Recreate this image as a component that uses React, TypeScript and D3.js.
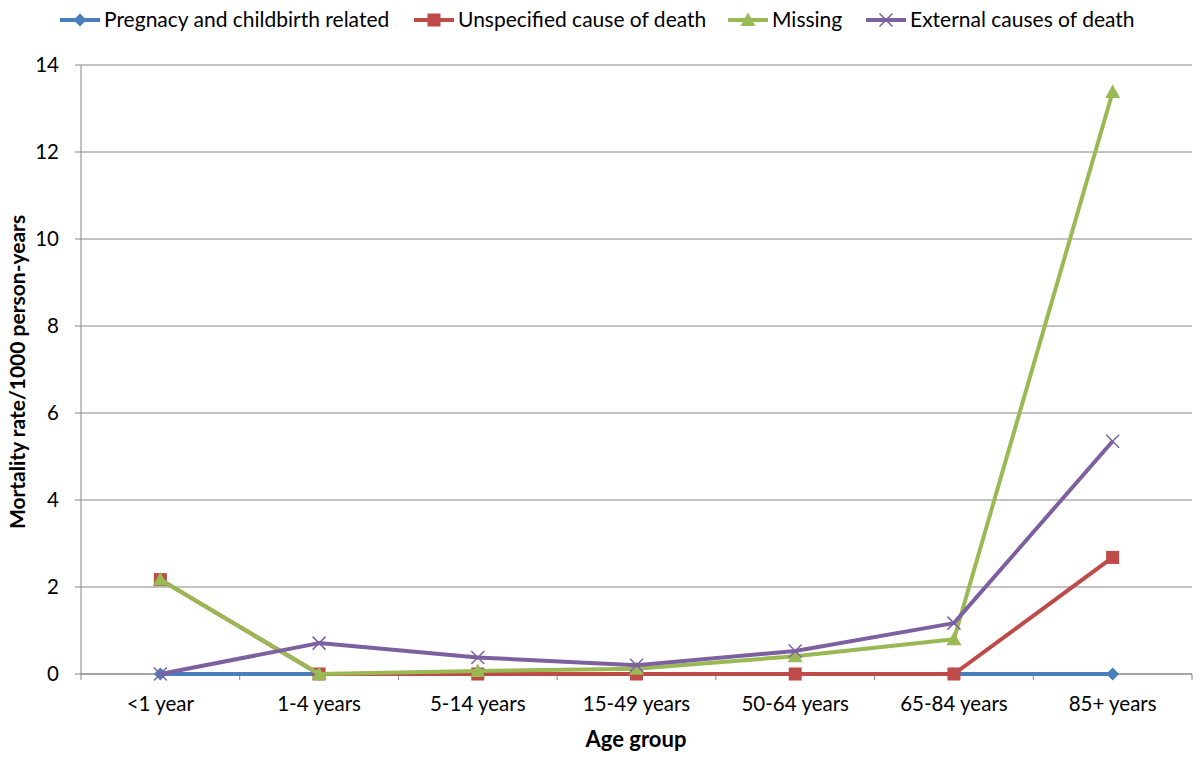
import React from "react";
import * as d3 from "d3";

const categories = ["<1 year", "1-4 years", "5-14 years", "15-49 years", "50-64 years", "65-84 years", "85+ years"];
const pregnancy = [0, 0, 0, 0, 0, 0, 0];
const unspecified = [2.17, 0, 0, 0, 0, 0, 2.68];
const missing = [2.17, 0, 0.07, 0.12, 0.41, 0.8, 13.38];
const external = [0, 0.71, 0.38, 0.2, 0.53, 1.17, 5.35];
const yTicks = [0, 2, 4, 6, 8, 10, 12, 14];

const seriesNames = ["Pregnacy and childbirth related", "Unspecified cause of death", "Missing", "External causes of death"];
const seriesColors = ["#4A7EBB", "#BE4B48", "#98B954", "#7D60A0"];
const seriesMarkers = ["diamond", "square", "triangle", "x"];
const seriesValues = [pregnancy, unspecified, missing, external];

const W = 1200, H = 758;
const M = { left: 81, right: 1192, top: 65, bottom: 674 };
const FONT = "Lato, 'Open Sans', sans-serif";

function Marker({ type, x, y, color }: { type: string; x: number; y: number; color: string }) {
  if (type === "diamond") {
    const s = 6.5;
    return <path d={`M${x},${y - s}L${x + s},${y}L${x},${y + s}L${x - s},${y}Z`} fill={color} />;
  }
  if (type === "square") {
    const s = 6.5;
    return <rect x={x - s} y={y - s} width={2 * s} height={2 * s} fill={color} />;
  }
  if (type === "triangle") {
    const s = 7.5;
    return <path d={`M${x},${y - s}L${x + s},${y + s * 0.8}L${x - s},${y + s * 0.8}Z`} fill={color} />;
  }
  const s = 6.5;
  return (
    <path d={`M${x - s},${y - s}L${x + s},${y + s}M${x - s},${y + s}L${x + s},${y - s}`} stroke={color} strokeWidth={1.5} fill="none" />
  );
}

export default function App() {
  const x = d3.scaleBand<string>().domain(categories).range([M.left, M.right]);
  const y = d3.scaleLinear().domain([0, 14]).range([M.bottom, M.top]);
  const cx = (c: string) => (x(c) as number) + x.bandwidth() / 2;
  const line = d3
    .line<number>()
    .x((_, i) => cx(categories[i]))
    .y((d) => y(d));

  const legendX = [60, 414, 728, 866];

  return (
    <svg width={W} height={H} style={{ position: "absolute", left: 0, top: 0, background: "#fff" }} fontFamily={FONT}>
      {yTicks.map((t) => (
        <line key={t} x1={M.left} x2={M.right} y1={y(t)} y2={y(t)} stroke="#868686" strokeWidth={1} />
      ))}
      <line x1={M.left} x2={M.left} y1={M.top} y2={M.bottom} stroke="#868686" strokeWidth={1} />
      {yTicks.map((t) => (
        <g key={"yt" + t}>
          <line x1={M.left - 6} x2={M.left} y1={y(t)} y2={y(t)} stroke="#868686" />
          <text x={M.left - 22} y={y(t)} dy="0.35em" textAnchor="end" fontSize={20.5} fill="#000">
            {t}
          </text>
        </g>
      ))}
      <line x1={M.left} x2={M.right} y1={M.bottom} y2={M.bottom} stroke="#868686" strokeWidth={1} />
      {categories.map((c, i) => (
        <line key={"xt" + i} x1={x(c) as number} x2={x(c) as number} y1={M.bottom} y2={M.bottom + 6} stroke="#868686" />
      ))}
      <line x1={M.right} x2={M.right} y1={M.bottom} y2={M.bottom + 6} stroke="#868686" />
      {categories.map((c) => (
        <text key={c} x={cx(c)} y={711} textAnchor="middle" fontSize={20.5} fill="#000">
          {c}
        </text>
      ))}
      {seriesValues.map((vals, si) => (
        <g key={si}>
          <path d={line(vals) || ""} fill="none" stroke={seriesColors[si]} strokeWidth={4} strokeLinejoin="round" />
          {vals.map((v, i) => (
            <Marker key={i} type={seriesMarkers[si]} x={cx(categories[i])} y={y(v)} color={seriesColors[si]} />
          ))}
        </g>
      ))}
      <text x={636} y={747} textAnchor="middle" fontSize={22} fontWeight="bold" fill="#000">
        Age group
      </text>
      <text transform={`translate(25,${372}) rotate(-90)`} textAnchor="middle" fontSize={21} fontWeight="bold" fill="#000">
        Mortality rate/1000 person-years
      </text>
      {seriesNames.map((n, i) => (
        <g key={n}>
          <line x1={legendX[i]} x2={legendX[i] + 40} y1={20} y2={20} stroke={seriesColors[i]} strokeWidth={4} />
          <Marker type={seriesMarkers[i]} x={legendX[i] + 20} y={20} color={seriesColors[i]} />
          <text x={legendX[i] + 44} y={20} dy="0.35em" fontSize={21} fill="#000">
            {n}
          </text>
        </g>
      ))}
    </svg>
  );
}
